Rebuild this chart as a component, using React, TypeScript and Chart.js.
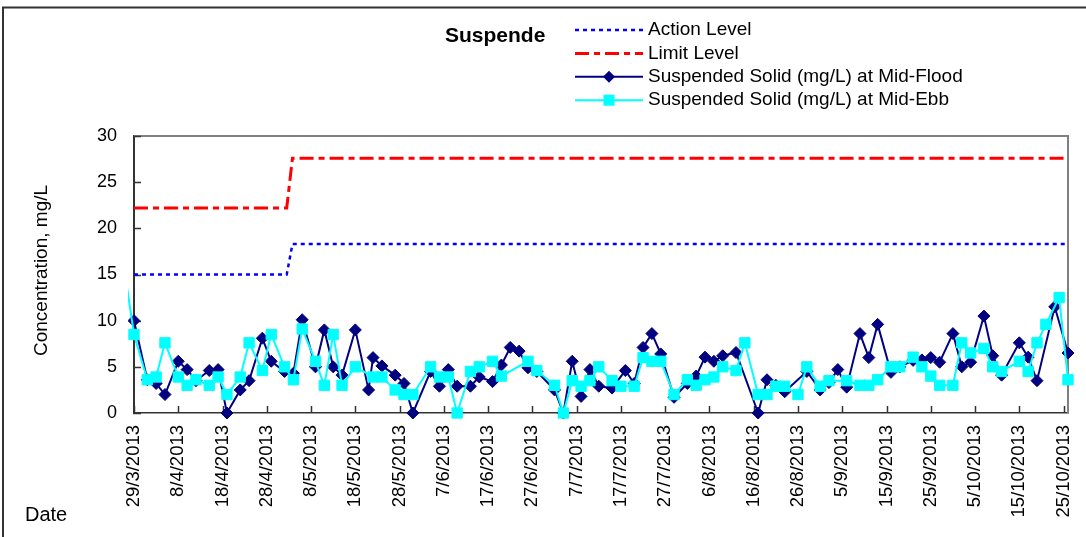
import React, { useEffect, useRef } from "react";
import { Chart, registerables } from "chart.js";

Chart.register(...registerables);

const FONT = "'Liberation Sans', Arial, Helvetica, sans-serif";

// x values are day offsets from 29/3/2013
const tickDays = [0, 10, 20, 30, 40, 50, 60, 70, 80, 90, 100, 110, 120, 130, 140, 150, 160, 170, 180, 190, 200, 210];
const tickLabels = [
  "29/3/2013", "8/4/2013", "18/4/2013", "28/4/2013", "8/5/2013", "18/5/2013", "28/5/2013",
  "7/6/2013", "17/6/2013", "27/6/2013", "7/7/2013", "17/7/2013", "27/7/2013", "6/8/2013",
  "16/8/2013", "26/8/2013", "5/9/2013", "15/9/2013", "25/9/2013", "5/10/2013", "15/10/2013", "25/10/2013",
];
const yTicks = [0, 5, 10, 15, 20, 25, 30];

const actionDays = [0, 34.5, 35.8, 211];
const actionValues = [15, 15, 18.3, 18.3];
const limitDays = [0, 34.5, 35.8, 211];
const limitValues = [22.2, 22.2, 27.6, 27.6];

const floodDays = [
  0, 3, 5, 7, 10, 12, 14, 17, 19, 21, 24, 26, 29, 31, 34, 36, 38, 41, 43, 45, 47, 50, 53, 54, 56, 59, 61, 63,
  67, 69, 71, 73, 76, 78, 81, 83, 85, 87, 89, 91, 95, 97, 99, 101, 103, 105, 108, 111, 113, 115, 117, 119,
  122, 125, 127, 129, 131, 133, 136, 141, 143, 145, 147, 152, 155, 157, 159, 161, 164, 166, 168, 171, 173,
  176, 178, 180, 182, 185, 187, 189, 192, 194, 196, 200, 202, 204, 208, 211,
];
const floodValues = [
  10.0, 3.6, 3.2, 2.0, 5.6, 4.7, 3.5, 4.6, 4.7, 0, 2.5, 3.5, 8.1, 5.6, 4.5, 4.3, 10.1, 5.0, 9.0, 5.0, 4.1, 9.0, 2.5, 6.0, 5.1, 4.1, 3.2, 0,
  4.5, 2.9, 4.7, 2.9, 2.9, 3.9, 3.4, 5.2, 7.1, 6.7, 4.9, 4.5, 2.5, 0, 5.6, 1.8, 4.7, 2.9, 2.7, 4.6, 3.2, 7.1, 8.6, 6.4,
  1.7, 3.2, 4.0, 6.05, 5.6, 6.2, 6.55, 0, 3.6, 3.0, 2.3, 4.5, 2.5, 3.3, 4.7, 2.8, 8.6, 6.0, 9.6, 4.4, 5.0,
  5.7, 5.75, 6.0, 5.5, 8.6, 5.0, 5.5, 10.5, 6.2, 4.1, 7.6, 6.05, 3.5, 11.5, 6.5,
];

const ebbDays = [
  -2, 0, 3, 5, 7, 10, 12, 14, 17, 19, 21, 24, 26, 29, 31, 34, 36, 38, 41, 43, 45, 47, 50, 54, 56, 59, 61, 63,
  67, 69, 71, 73, 76, 78, 81, 83, 89, 91, 95, 97, 99, 101, 103, 105, 108, 110, 113, 115, 117, 119,
  122, 125, 127, 129, 131, 133, 136, 138, 141, 143, 145, 147, 150, 152, 155, 157, 161, 164, 166, 168, 171, 173,
  176, 178, 180, 182, 185, 187, 189, 192, 194, 196, 200, 202, 204, 206, 209, 211,
];
const ebbValues = [
  15, 8.5, 3.6, 3.9, 7.6, 3.9, 3.0, 3.6, 3.0, 3.9, 2.0, 3.9, 7.6, 4.6, 8.5, 5.0, 3.6, 9.1, 5.6, 3.0, 8.5, 3.0, 5.0, 3.9, 3.9, 2.5, 2.0, 2.0,
  5.0, 3.9, 3.9, 0, 4.5, 5.0, 5.6, 4.0, 5.6, 4.6, 3.0, 0, 3.5, 2.9, 3.5, 5.0, 3.5, 2.9, 2.9, 6.0, 5.6, 5.6,
  2.0, 3.6, 3.0, 3.6, 3.9, 5.0, 4.6, 7.6, 2.0, 2.0, 2.9, 2.9, 2.0, 5.0, 2.9, 3.5, 3.5, 3.0, 3.0, 3.6, 5.0, 5.0,
  6.05, 5.0, 4.0, 3.0, 3.0, 7.6, 6.5, 7.0, 5.0, 4.5, 5.6, 4.5, 7.6, 9.6, 12.5, 3.6,
];

const chartTitle = "Suspende";
const yAxisTitle = "Concentration, mg/L";
const xAxisTitle = "Date";

const toPts = (xs: number[], ys: number[]) => xs.map((x, i) => ({ x, y: ys[i] }));

const decorPlugin = {
  id: "decor",
  beforeDatasetsDraw(chart: any) {
    const ctx = chart.ctx;
    const { left, right, top, bottom } = chart.chartArea;
    ctx.save();
    ctx.strokeStyle = "#808080";
    ctx.lineWidth = 2;
    ctx.beginPath();
    ctx.moveTo(left, top);
    ctx.lineTo(right, top);
    ctx.lineTo(right, bottom);
    ctx.stroke();
    ctx.strokeStyle = "#333";
    ctx.lineWidth = 1.5;
    const xs = chart.scales.x;
    const ys = chart.scales.y;
    ctx.beginPath();
    tickDays.forEach((d) => {
      const px = Math.round(xs.getPixelForValue(d)) + 0.5;
      ctx.moveTo(px, bottom);
      ctx.lineTo(px, bottom - 7);
    });
    yTicks.forEach((v) => {
      const py = Math.round(ys.getPixelForValue(v)) + 0.5;
      ctx.moveTo(left - 1, py);
      ctx.lineTo(left + 7, py);
    });
    ctx.stroke();
    ctx.restore();
  },
  afterDraw(chart: any) {
    const ctx = chart.ctx;
    const { top, bottom } = chart.chartArea;
    ctx.save();
    ctx.strokeStyle = "#333";
    ctx.lineWidth = 2;
    ctx.beginPath();
    ctx.moveTo(3, 537);
    ctx.lineTo(3, 7.5);
    ctx.lineTo(1086, 7.5);
    ctx.stroke();

    ctx.fillStyle = "#000";
    ctx.textBaseline = "middle";
    ctx.font = `bold 21px ${FONT}`;
    ctx.textAlign = "left";
    ctx.fillText(chartTitle, 445, 36);

    const ds = chart.data.datasets;
    const lx0 = 575, lx1 = 643, tx = 648;
    ctx.font = `19px ${FONT}`;
    ds.forEach((d: any, i: number) => {
      const y = 30 + i * 23.4;
      ctx.save();
      ctx.strokeStyle = d.borderColor;
      ctx.lineWidth = d.borderWidth;
      ctx.setLineDash(d.borderDash || []);
      ctx.beginPath();
      ctx.moveTo(lx0, y);
      ctx.lineTo(lx1, y);
      ctx.stroke();
      ctx.setLineDash([]);
      const cx = (lx0 + lx1) / 2;
      ctx.fillStyle = d.backgroundColor;
      if (d.pointStyle === "rectRot") {
        const r = 6;
        ctx.beginPath();
        ctx.moveTo(cx - r, y);
        ctx.lineTo(cx, y - r);
        ctx.lineTo(cx + r, y);
        ctx.lineTo(cx, y + r);
        ctx.closePath();
        ctx.fill();
      } else if (d.pointStyle === "rect") {
        ctx.fillRect(cx - 5.5, y - 5.5, 11, 11);
      }
      ctx.restore();
      ctx.fillStyle = "#000";
      ctx.textAlign = "left";
      ctx.fillText(d.label, tx, y);
    });

    ctx.save();
    ctx.font = `19px ${FONT}`;
    ctx.translate(42, (top + bottom) / 2 - 4);
    ctx.rotate(-Math.PI / 2);
    ctx.textAlign = "center";
    ctx.fillText(yAxisTitle, 0, 0);
    ctx.restore();

    ctx.font = `20px ${FONT}`;
    ctx.textAlign = "left";
    ctx.fillText(xAxisTitle, 25, 515);
    ctx.restore();
  },
};

export default function App() {
  const ref = useRef<HTMLCanvasElement | null>(null);

  useEffect(() => {
    if (!ref.current) return;
    const clip = { left: 6, top: 10, right: 10, bottom: 10 };
    const chart = new Chart(ref.current, {
      type: "line",
      data: {
        datasets: [
          {
            label: "Action Level",
            data: toPts(actionDays, actionValues),
            borderColor: "#0000FF",
            backgroundColor: "#0000FF",
            borderWidth: 2.5,
            borderDash: [4, 4],
            pointRadius: 0,
            tension: 0,
            order: 3,
            clip,
          },
          {
            label: "Limit Level",
            data: toPts(limitDays, limitValues),
            borderColor: "#FF0000",
            backgroundColor: "#FF0000",
            borderWidth: 3,
            borderDash: [14, 5, 6, 5],
            pointRadius: 0,
            tension: 0,
            order: 2,
            clip,
          },
          {
            label: "Suspended Solid (mg/L) at Mid-Flood",
            data: toPts(floodDays, floodValues),
            borderColor: "#000080",
            backgroundColor: "#000080",
            borderWidth: 2,
            pointStyle: "rectRot",
            pointRadius: 6,
            pointBorderWidth: 1,
            tension: 0,
            order: 1,
            clip,
          },
          {
            label: "Suspended Solid (mg/L) at Mid-Ebb",
            data: toPts(ebbDays, ebbValues),
            borderColor: "#00FFFF",
            backgroundColor: "#00FFFF",
            borderWidth: 2,
            pointStyle: "rect",
            pointRadius: (c: any) => (c.raw && c.raw.x < 0 ? 0 : 7.3),
            pointBorderWidth: 1,
            tension: 0,
            order: 0,
            clip,
          },
        ] as any,
      },
      options: {
        responsive: false,
        animation: false,
        devicePixelRatio: 1,
        events: [],
        layout: { padding: { left: 0, top: 136, right: 18, bottom: 0 } },
        plugins: {
          legend: { display: false },
          title: { display: false },
          tooltip: { enabled: false },
        },
        scales: {
          x: {
            type: "linear",
            min: 0,
            max: 211,
            afterBuildTicks: (s: any) => {
              s.ticks = tickDays.map((v) => ({ value: v }));
            },
            afterFit: (s: any) => {
              s.height = 124;
              s.paddingLeft = 0;
              s.paddingRight = 0;
            },
            ticks: {
              autoSkip: false,
              minRotation: 90,
              maxRotation: 90,
              padding: 12,
              color: "#000",
              font: { family: FONT, size: 18.5 },
              callback: (v: any) => {
                const i = tickDays.indexOf(Number(v));
                return i >= 0 ? tickLabels[i] : "";
              },
            },
            grid: { display: true, drawOnChartArea: false, drawTicks: false },
            border: { display: true, color: "#333", width: 1.5 },
          },
          y: {
            type: "linear",
            min: 0,
            max: 30,
            afterBuildTicks: (s: any) => {
              s.ticks = yTicks.map((v) => ({ value: v }));
            },
            afterFit: (s: any) => {
              s.width = 134;
              s.paddingTop = 0;
              s.paddingBottom = 0;
            },
            ticks: {
              padding: 17,
              color: "#000",
              font: { family: FONT, size: 18 },
            },
            grid: { display: true, drawOnChartArea: false, drawTicks: false },
            border: { display: true, color: "#333", width: 2 },
          },
        },
      },
      plugins: [decorPlugin],
    } as any);
    return () => chart.destroy();
  }, []);

  return (
    <div style={{ position: "absolute", left: 0, top: 0, width: 1086, height: 537, background: "#fff" }}>
      <canvas ref={ref} width={1086} height={537} style={{ display: "block" }} />
    </div>
  );
}
